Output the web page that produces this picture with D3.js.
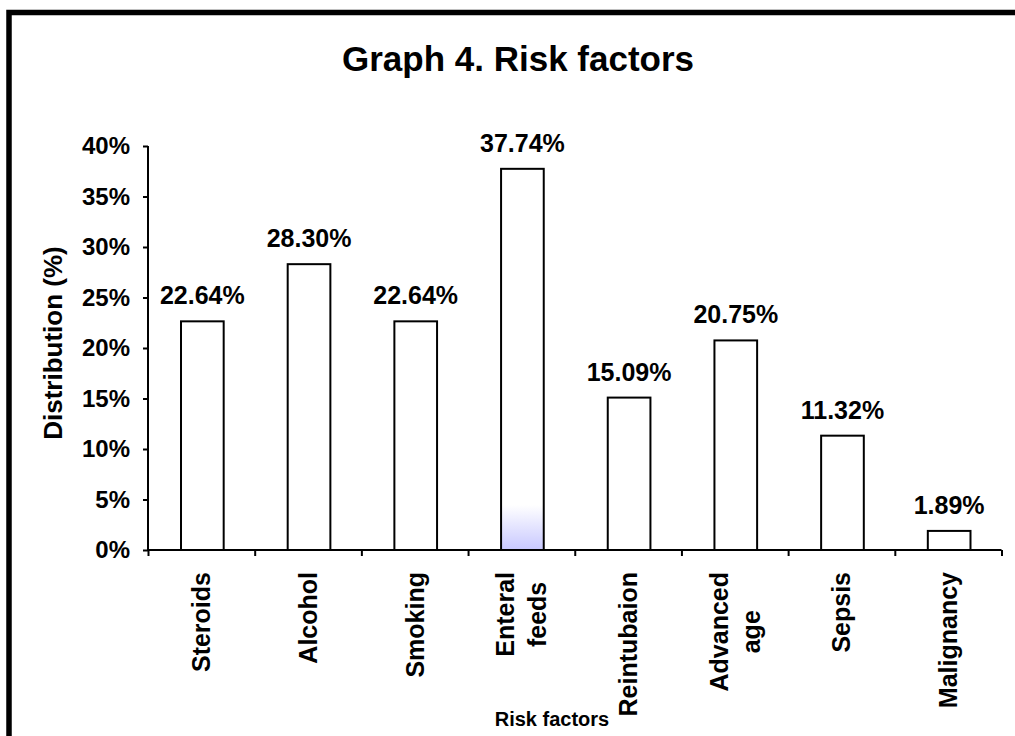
<!DOCTYPE html>
<html>
<head>
<meta charset="utf-8">
<script src="https://cdn.jsdelivr.net/npm/d3@7"></script>
<style>
  body { margin: 0; background: #fff; }
  svg { display: block; font-family: "Liberation Sans", Arial, sans-serif; font-weight: bold; }
</style>
</head>
<body>
<div id="container"></div>
<script>
const categories = ["Steroids", "Alcohol", "Smoking", "Enteral feeds", "Reintubaion", "Advanced age", "Sepsis", "Malignancy"];
const values = [22.64, 28.30, 22.64, 37.74, 15.09, 20.75, 11.32, 1.89];
const yTicks = [0, 5, 10, 15, 20, 25, 30, 35, 40];

const totalWidth = 1015;
const totalHeight = 736;
const plot = { left: 148, right: 1001.5, top: 146, bottom: 550 };

const svg = d3.select("#container")
  .append("svg")
  .attr("width", totalWidth)
  .attr("height", totalHeight);

// gradient on the enteral feeds bar
const grad = svg.append("defs").append("linearGradient")
  .attr("id", "blueFade")
  .attr("gradientUnits", "userSpaceOnUse")
  .attr("x1", 0).attr("x2", 0)
  .attr("y1", 505).attr("y2", plot.bottom);
grad.append("stop").attr("offset", "0%").attr("stop-color", "#ffffff");
grad.append("stop").attr("offset", "100%").attr("stop-color", "#c8c8ff");

// outer frame
svg.append("rect")
  .attr("x", 9)
  .attr("y", 12.5)
  .attr("width", 1040)
  .attr("height", 780)
  .attr("fill", "none")
  .attr("stroke", "#000")
  .attr("stroke-width", 5.5);

svg.append("text")
  .attr("x", 518)
  .attr("y", 71)
  .attr("text-anchor", "middle")
  .style("font-size", "35px")
  .text("Graph 4. Risk factors");

// Scales
const xScale = d3.scaleBand()
  .domain(categories)
  .range([plot.left, plot.right])
  .padding(0);

const xEdge = d3.scaleLinear()
  .domain([0, categories.length])
  .range([plot.left, plot.right]);

const yScale = d3.scaleLinear()
  .domain([0, 40])
  .range([plot.bottom, plot.top]);

const barWidth = xScale.bandwidth() * 0.4;

// Bars
svg.selectAll("rect.bar")
  .data(values)
  .enter()
  .append("rect")
  .attr("class", "bar")
  .attr("x", (d, i) => xScale(categories[i]) + (xScale.bandwidth() - barWidth) / 2 + 1)
  .attr("y", d => yScale(d))
  .attr("width", barWidth)
  .attr("height", d => yScale(0) - yScale(d))
  .attr("fill", (d, i) => categories[i] === "Enteral feeds" ? "url(#blueFade)" : "#fff")
  .attr("stroke", "#000")
  .attr("stroke-width", 2);

// Value labels
svg.selectAll("text.value")
  .data(values)
  .enter()
  .append("text")
  .attr("class", "value")
  .attr("x", (d, i) => xScale(categories[i]) + xScale.bandwidth() / 2 + 1)
  .attr("y", d => yScale(d) - 17)
  .attr("text-anchor", "middle")
  .style("font-size", "25px")
  .text(d => d.toFixed(2) + "%");

// Axes
const yAxis = svg.append("g")
  .attr("transform", `translate(${plot.left},0)`)
  .call(d3.axisLeft(yScale).tickValues(yTicks).tickSize(5).tickPadding(13).tickFormat(d => d + "%"));

const xAxis = svg.append("g")
  .attr("transform", `translate(0,${plot.bottom})`)
  .call(d3.axisBottom(xEdge).tickValues(d3.range(categories.length + 1)).tickSize(6).tickFormat(""));

[yAxis, xAxis].forEach(ax => {
  ax.select(".domain").attr("stroke", "#000").attr("stroke-width", 2);
  ax.selectAll(".tick line").attr("stroke", "#000").attr("stroke-width", 2);
});
yAxis.select(".domain").attr("d", `M0,${plot.top}V${plot.bottom}`);
xAxis.select(".domain").attr("d", `M${plot.left},0H${plot.right}`);
yAxis.selectAll(".tick text")
  .attr("fill", "#000")
  .style("font-size", "24px")
  .style("font-family", "'Liberation Sans', Arial, sans-serif");

// Category labels (rotated, lines centred, top aligned)
const labelTop = 572;
const lineGap = 32;
categories.forEach(cat => {
  const lines = cat.split(" ");
  const cx = xScale(cat) + xScale.bandwidth() / 2;
  const g = svg.append("g");
  const texts = lines.map(l => g.append("text")
    .attr("text-anchor", "middle")
    .style("font-size", "25px")
    .text(l));
  const maxLen = d3.max(texts, t => t.node().getComputedTextLength());
  texts.forEach((t, j) => {
    const off = (j - (lines.length - 1) / 2) * lineGap;
    t.attr("transform", `translate(${cx + off + 9},${labelTop + maxLen / 2}) rotate(-90)`);
  });
});

// Axis titles
svg.append("text")
  .attr("transform", `translate(62,343) rotate(-90)`)
  .attr("text-anchor", "middle")
  .style("font-size", "26px")
  .text("Distribution (%)");

svg.append("text")
  .attr("x", 552)
  .attr("y", 726)
  .attr("text-anchor", "middle")
  .style("font-size", "20px")
  .text("Risk factors");
</script>
</body>
</html>
